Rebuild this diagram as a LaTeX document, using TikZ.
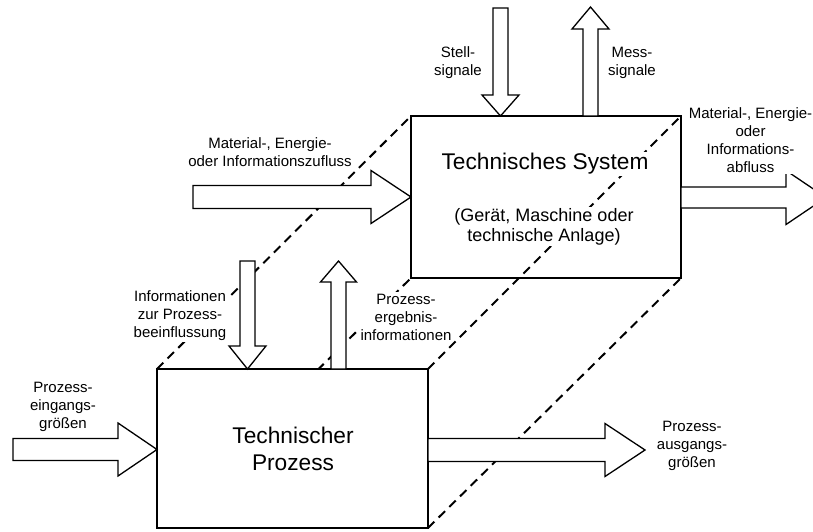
\documentclass[tikz,border=0pt]{standalone}
\usepackage{fontspec}
\setmainfont{Liberation Sans}
\usetikzlibrary{calc}
\tikzset{
  boxst/.style={draw, line width=2pt, inner sep=0pt, outer sep=0pt, anchor=north west},
  hidden/.style={line width=2pt, dash pattern=on 9pt off 6pt},
  barr/.style={draw, fill=white, line width=1.3pt, line join=miter},
  lbl/.style={fill=white, inner sep=1.5pt, align=center, anchor=north, font=\fontsize{15}{18}\selectfont},
  mlbl/.style={lbl, font=\fontsize{18}{19.5}\selectfont},
  blbl/.style={lbl, font=\fontsize{22.7}{27.5}\selectfont},
  pics/barrow/.style args={#1/#2/#3/#4}{code={
    \path[barr] (0,-#2) -- ({#1-#4},-#2) -- ({#1-#4},-#3) -- (#1,0)
      -- ({#1-#4},#3) -- ({#1-#4},#2) -- (0,#2) -- cycle;}}
}
\begin{document}
\begin{tikzpicture}[x=1pt,y=-1pt]
\clip (0,0) rectangle (813,532);
% boxes
\node[boxst, minimum width=270pt, minimum height=162pt] (sys) at (411,116) {};
% hidden edges
\coordinate (pnw) at (157,369);
\coordinate (pne) at (428,369);
\coordinate (psw) at (157,528);
\coordinate (pse) at (428,528);
\draw[hidden] (pnw) -- (sys.north west);
\draw[hidden] (pne) -- (sys.north east);
\draw[hidden] (psw) -- (sys.south west);
\draw[hidden] (pse) -- (sys.south east);
\node[boxst, fill=white, minimum width=271pt, minimum height=159pt] (proc) at (pnw) {};
% block arrows
\pic at ($(sys.west)+(-218,0)$) {barrow=218/11.5/26.5/40};
\pic at ($(sys.east)+(0,0.5)$) {barrow=145/10.5/27/40};
\pic[rotate=-90] at ($(sys.north west)+(89.5,-108)$) {barrow=108/7.5/18.5/21};
\pic[rotate=90] at ($(sys.north west)+(179.5,0)$) {barrow=109/7.5/18.5/22};
\pic[rotate=-90] at ($(proc.north west)+(90.5,-108)$) {barrow=108/7.5/18.5/23};
\pic[rotate=90] at ($(proc.north west)+(181.5,0)$) {barrow=108/7.5/18/21};
\pic at ($(proc.west)+(-144,1)$) {barrow=144/11/26.5/39};
\pic at ($(proc.east)+(0,1.5)$) {barrow=217/11.5/26.5/40};
% labels
\node[lbl] (stell) at (458,45) {Stell-\\signale};
\node[lbl] (mess) at (632,45) {Mess-\\signale};
\node[lbl] (zu) at (270,136) {Material-, Energie-\\oder Informationszufluss};
\node[lbl] (ab) at (750.5,106) {Material-, Energie-\\oder\\Informations-\\abfluss};
\node[blbl] (tsys) at (545,151.5) {Technisches System};
\node[mlbl] (geraet) at (544,207) {(Gerät, Maschine oder\\technische Anlage)};
\node[lbl] (infoz) at (180,288.5) {Informationen\\zur Prozess-\\beeinflussung};
\node[lbl] (erg) at (406,292) {Prozess-\\ergebnis-\\informationen};
\node[lbl] (ein) at (63,380) {Prozess-\\eingangs-\\größen};
\node[lbl] (aus) at (692,419.5) {Prozess-\\ausgangs-\\größen};
\node[blbl, fill=none] (tproc) at (293,425) {Technischer\\Prozess};
\end{tikzpicture}
\end{document}
